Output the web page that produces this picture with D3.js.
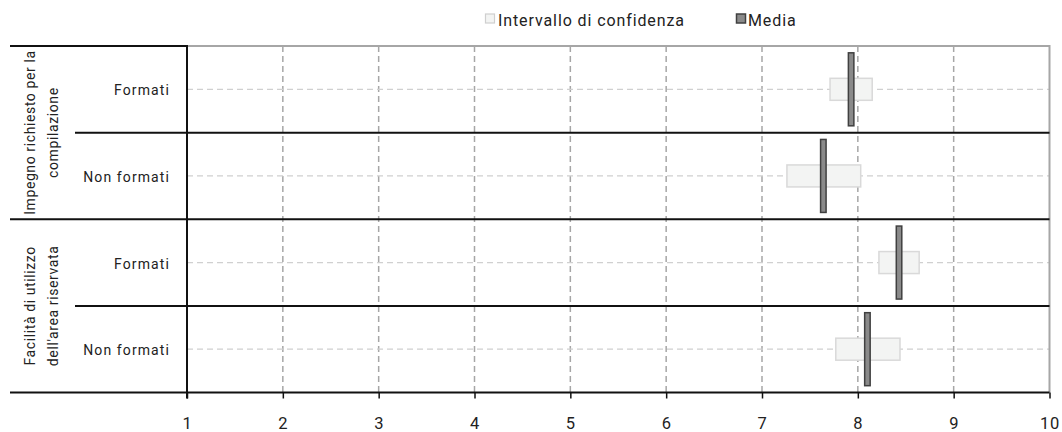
<!DOCTYPE html>
<html><head><meta charset="utf-8">
<script src="https://cdn.jsdelivr.net/npm/d3@7"></script>
<style>body{margin:0;background:#fff}svg{display:block}text{font-family:Roboto,"Noto Sans",sans-serif;fill:#222}</style>
</head><body><svg id="c" width="1062" height="432"></svg>
<script>
const groups = [["Impegno richiesto per la","compilazione"],["Facilità di utilizzo","dell'area riservata"]];
const subcats = ["Formati","Non formati"];
const means  = [7.93, 7.64, 8.43, 8.10];
const ciLow  = [7.71, 7.26, 8.22, 7.77];
const ciHigh = [8.15, 8.03, 8.64, 8.44];
const xTicks = [1,2,3,4,5,6,7,8,9,10];
const legendLabels = ["Intervallo di confidenza","Media"];

const svg = d3.select("#c");
const L = 187, R = 1049.5, T = 46, B = 392.5;
const x = d3.scaleLinear().domain([1,10]).range([L,R]);
const rows = d3.range(means.length);
const y = d3.scaleBand().domain(rows).range([T,B]);

// vertical grid
svg.append("g").selectAll("line").data(xTicks.filter(d=>d>1&&d<10)).join("line")
  .attr("x1",d=>x(d)).attr("x2",d=>x(d)).attr("y1",T).attr("y2",B)
  .attr("stroke","#a6a6a6").attr("stroke-width",1.5).attr("stroke-dasharray","6,4");
// horizontal row grid
svg.append("g").selectAll("line").data(rows).join("line")
  .attr("x1",L).attr("x2",R).attr("y1",d=>y(d)+y.bandwidth()/2).attr("y2",d=>y(d)+y.bandwidth()/2)
  .attr("stroke","#d0d0d0").attr("stroke-width",1.3).attr("stroke-dasharray","6,4");
// gray border top & right
svg.append("path").attr("d",`M${L},${T}H${R}V${B}`).attr("fill","none").attr("stroke","#a6a6a6").attr("stroke-width",2);

// CI boxes
const bh = 22;
svg.append("g").selectAll("rect").data(rows).join("rect")
  .attr("x",i=>x(ciLow[i])).attr("width",i=>x(ciHigh[i])-x(ciLow[i]))
  .attr("y",i=>y(i)+y.bandwidth()/2-bh/2).attr("height",bh)
  .attr("fill","#f3f4f3").attr("stroke","#d9d9d9").attr("stroke-width",1.5);
// mean bars
const mh = 73, mw = 5.5;
svg.append("g").selectAll("rect").data(rows).join("rect")
  .attr("x",i=>x(means[i])-mw/2).attr("width",mw)
  .attr("y",i=>y(i)+y.bandwidth()/2-mh/2).attr("height",mh)
  .attr("fill","#8a8a8a").attr("stroke","#404040").attr("stroke-width",1.5);

// black separators
const blk = svg.append("g").attr("stroke","#111").attr("stroke-width",2);
blk.append("line").attr("x1",10).attr("x2",L).attr("y1",T).attr("y2",T);
rows.slice(1).forEach(i=>{
  const yy = y(i);
  blk.append("line").attr("x1", i%2===0?10:75).attr("x2",R).attr("y1",yy).attr("y2",yy);
});
blk.append("line").attr("x1",10).attr("x2",R).attr("y1",B).attr("y2",B);
blk.append("line").attr("x1",L).attr("x2",L).attr("y1",T-1).attr("y2",B+6);

// x axis
const ax = svg.append("g").attr("transform",`translate(0,${B})`)
  .call(d3.axisBottom(x).tickValues(xTicks).tickFormat(d3.format("d")).tickSize(6).tickPadding(19));
ax.attr("font-size",null).attr("font-family",null);
ax.select(".domain").remove();
ax.selectAll("line").attr("stroke","#111").attr("stroke-width",1.5);
ax.selectAll("text").style("font-size","16.5px").style("font-family","Roboto,sans-serif").attr("letter-spacing","0.8px").attr("fill","#222");

// subcategory labels
svg.append("g").selectAll("text").data(rows).join("text")
  .attr("x",170).attr("y",i=>y(i)+y.bandwidth()/2+6)
  .attr("text-anchor","end").attr("font-size",14).attr("letter-spacing","1.1px").text(i=>subcats[i%2]);

// group labels (rotated)
groups.forEach((g,gi)=>{
  const cy = y(gi*2) + y.bandwidth();
  const t = svg.append("text").attr("transform",`translate(35,${cy}) rotate(-90)`)
    .attr("text-anchor","middle").attr("font-size",14).attr("letter-spacing","0.6px");
  g.forEach((line,li)=>t.append("tspan").attr("x",0).attr("dy",li===0?0:23).text(line));
});

// legend
const leg = svg.append("g");
leg.append("rect").attr("x",485.5).attr("y",14).attr("width",9).attr("height",9)
  .attr("fill","#f3f4f3").attr("stroke","#cfcfcf").attr("stroke-width",1.2);
leg.append("text").attr("x",498).attr("y",25.5).attr("font-size",16).attr("letter-spacing","0.9px").text(legendLabels[0]);
leg.append("rect").attr("x",736.5).attr("y",14).attr("width",9).attr("height",9)
  .attr("fill","#8a8a8a").attr("stroke","#404040").attr("stroke-width",1.5);
leg.append("text").attr("x",748).attr("y",25.5).attr("font-size",16).attr("letter-spacing","0.9px").text(legendLabels[1]);
</script></body></html>
